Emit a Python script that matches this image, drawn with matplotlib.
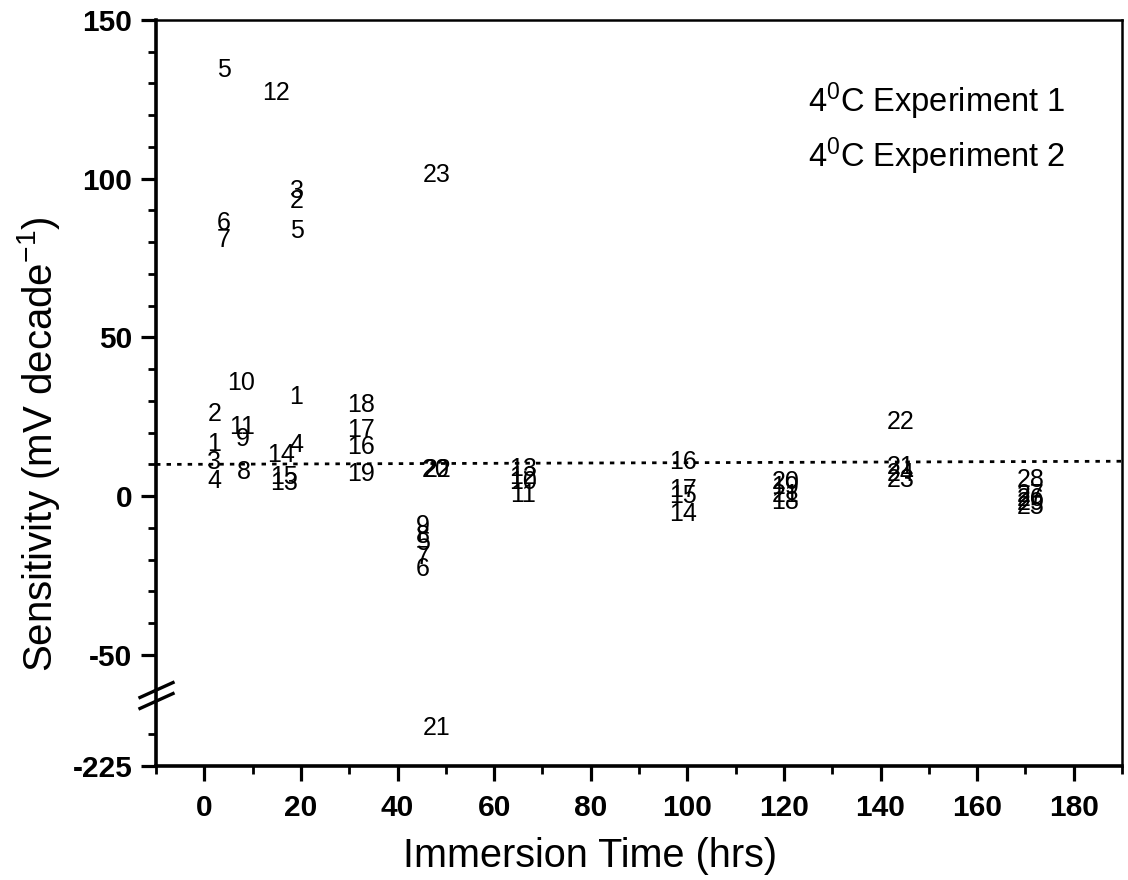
import numpy as np
import matplotlib
matplotlib.use("Agg")
import matplotlib.pyplot as plt
from matplotlib.ticker import FixedLocator, FixedFormatter
from matplotlib.lines import Line2D

plt.rcParams['font.family'] = ['Liberation Sans', 'DejaVu Sans']
plt.rcParams['mathtext.fontset'] = 'custom'
plt.rcParams['mathtext.rm'] = 'Liberation Sans'
plt.rcParams['mathtext.it'] = 'Liberation Sans:italic'
plt.rcParams['mathtext.bf'] = 'Liberation Sans:bold'

# ---------------- data ----------------
exp1_x = [2.1, 2.1, 2.1, 2.1, 4.0, 4.0, 4.0, 8.1, 7.9, 7.6, 7.9,
          14.9, 16.6, 15.9, 16.6, 32.5, 32.5, 32.5, 32.5, 48.0, 48.1, 48.3, 48.1]
exp1_y = [16.5, 26.0, 10.7, 4.9, 134.4, 86.0, 80.7, 7.6, 18.1, 35.5, 21.8,
          127.1, 4.0, 12.9, 6.0, 15.5, 20.7, 28.6, 7.1, 8.1, -213.0, 8.3, 101.2]
exp1_lab = ['1', '2', '3', '4', '5', '6', '7', '8', '9', '10', '11',
            '12', '13', '14', '15', '16', '17', '18', '19', '20', '21', '22', '23']

exp2_x = [19.0, 19.2, 19.2, 19.0, 19.2, 45.3, 45.3, 45.3, 45.3, 45.3,
          66.0, 66.0, 66.0, 66.0, 99.2, 99.2, 99.2, 99.2,
          120.3, 120.3, 120.3, 120.3, 144.1, 144.1, 144.1, 144.1,
          171.1, 171.1, 171.1, 171.1, 171.1]
exp2_y = [31.3, 92.9, 96.0, 16.0, 83.4, -14.8, -22.9, -19.3, -12.4, -9.3,
          4.5, 0.5, 6.0, 8.6, -5.6, 0.0, 10.7, 2.0,
          -1.9, 2.8, 4.5, 0.3, 9.2, 23.4, 5.0, 7.1,
          -3.3, -1.0, 0.5, 5.0, -2.0]
exp2_lab = ['1', '2', '3', '4', '5', '5', '6', '7', '8', '9',
            '10', '11', '12', '13', '14', '15', '16', '17',
            '18', '19', '20', '21', '21', '22', '23', '24',
            '25', '26', '27', '28', '29']

fit_x = [-10, 190]
fit_y = [10.0, 11.0]

x_major = [0, 20, 40, 60, 80, 100, 120, 140, 160, 180]
x_minor = [-10, 10, 30, 50, 70, 90, 110, 130, 150, 170, 190]
y_major = [150, 100, 50, 0, -50, -225]
y_major_lab = ['150', '100', '50', '0', '-50', '-225']
y_minor = [140, 130, 120, 110, 90, 80, 70, 60, 40, 30, 20, 10,
           -10, -20, -30, -40, -215]

# ---------------- broken-axis scale ----------------
def fwd(y):
    y = np.asarray(y, dtype=float)
    return np.where(y >= -62, y,
                    np.where(y >= -205, -62 + (y + 62) * 3.0 / 143.0, y + 140))

def inv(t):
    t = np.asarray(t, dtype=float)
    return np.where(t >= -62, t,
                    np.where(t >= -65, -62 + (t + 62) * 143.0 / 3.0, t - 140))

fig = plt.figure(figsize=(11.28, 8.8), dpi=100)
ax = fig.add_axes([156 / 1128, 1 - 766 / 880, (1122 - 156) / 1128, (766 - 20) / 880])
ax.set_yscale('function', functions=(fwd, inv))
ax.set_xlim(-10, 190)
ax.set_ylim(-225, 150)

for xs, ys, ls in ((exp1_x, exp1_y, exp1_lab), (exp2_x, exp2_y, exp2_lab)):
    for xv, yv, lv in zip(xs, ys, ls):
        ax.text(xv, yv, lv, ha='center', va='center', fontsize=18, color='black')

ax.plot(fit_x, fit_y, color='black', lw=2.0, linestyle=(0, (1.6, 2.2)))

ax.xaxis.set_major_locator(FixedLocator(x_major))
ax.xaxis.set_minor_locator(FixedLocator(x_minor))
ax.yaxis.set_major_locator(FixedLocator(y_major))
ax.yaxis.set_major_formatter(FixedFormatter(y_major_lab))
ax.yaxis.set_minor_locator(FixedLocator(y_minor))

ax.tick_params(which='major', direction='out', length=11, width=2.3,
               labelsize=21.5, pad=6)
ax.tick_params(which='minor', direction='out', length=6, width=2.0)
ax.tick_params(axis='x', which='major', pad=9)
for lab in ax.get_xticklabels() + ax.get_yticklabels():
    lab.set_fontweight('bold')

ax.spines['left'].set_linewidth(2.6)
ax.spines['bottom'].set_linewidth(2.6)
ax.spines['top'].set_linewidth(1.8)
ax.spines['right'].set_linewidth(1.8)

# axis break marks on the left spine
bx0, bx1 = -16 / 966, 17 / 966
for yc in (690 - 766, 701 - 766):
    ya = -yc / 746.0
    ax.plot([bx0, bx1], [ya - 0.010, ya + 0.010], transform=ax.transAxes,
            color='black', lw=2.4, clip_on=False, zorder=5)

ax.set_xlabel('Immersion Time (hrs)', fontsize=28.5)
ax.set_ylabel('Sensitivity (mV decade$^{-1}$)', fontsize=29)
ax.xaxis.set_label_coords(0.449, -0.12)
ax.xaxis.label.set_va('center')
ax.yaxis.set_label_coords(-0.122, 0.432)
ax.yaxis.label.set_va('center')

handles = [Line2D([], [], linestyle='none'), Line2D([], [], linestyle='none')]
ax.legend(handles, ['4$^{0}$C Experiment 1', '4$^{0}$C Experiment 2'],
          loc='upper left', bbox_to_anchor=((808 - 156) / 966, 1 - (80 - 20) / 746),
          frameon=False, handlelength=0, handletextpad=0, fontsize=23.5,
          labelspacing=0.42, borderpad=0, borderaxespad=0)

fig.savefig('out.png', dpi=100)
